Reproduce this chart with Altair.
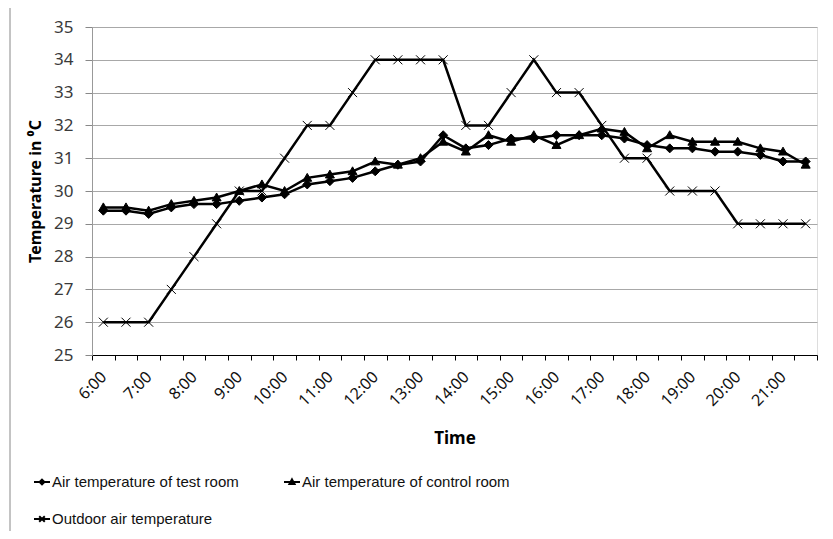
import altair as alt
import pandas as pd

times = ["6:00", "6:30", "7:00", "7:30", "8:00", "8:30", "9:00", "9:30",
         "10:00", "10:30", "11:00", "11:30", "12:00", "12:30", "13:00", "13:30",
         "14:00", "14:30", "15:00", "15:30", "16:00", "16:30", "17:00", "17:30",
         "18:00", "18:30", "19:00", "19:30", "20:00", "20:30", "21:00", "21:30"]

test_room = [29.4, 29.4, 29.3, 29.5, 29.6, 29.6, 29.7, 29.8, 29.9, 30.2, 30.3, 30.4,
             30.6, 30.8, 30.9, 31.7, 31.3, 31.4, 31.6, 31.6, 31.7, 31.7, 31.7, 31.6,
             31.4, 31.3, 31.3, 31.2, 31.2, 31.1, 30.9, 30.9]
control_room = [29.5, 29.5, 29.4, 29.6, 29.7, 29.8, 30.0, 30.2, 30.0, 30.4, 30.5, 30.6,
                30.9, 30.8, 31.0, 31.5, 31.2, 31.7, 31.5, 31.7, 31.4, 31.7, 31.9, 31.8,
                31.3, 31.7, 31.5, 31.5, 31.5, 31.3, 31.2, 30.8]
outdoor = [26, 26, 26, 27, 28, 29, 30, 30, 31, 32, 32, 33, 34, 34, 34, 34,
           32, 32, 33, 34, 33, 33, 32, 31, 31, 30, 30, 30, 29, 29, 29, 29]

series_names = ["Air temperature of test room", "Air temperature of control room",
                "Outdoor air temperature"]

rows = []
for name, vals in zip(series_names, [test_room, control_room, outdoor]):
    for i, (t, v) in enumerate(zip(times, vals)):
        rows.append({"idx": i, "time": t, "series": name, "temp": v})
df = pd.DataFrame(rows)

marker_paths = [
    "M0,-1L1,0L0,1L-1,0Z",
    "M0,-1L1,0.75L-1,0.75Z",
    "M-1,-1L1,1M-1,1L1,-1",
]
legend_paths = [
    "M-1,0H1M0,-0.3L0.3,0L0,0.3L-0.3,0Z",
    "M-1,0H1M0,-0.32L0.32,0.26L-0.32,0.26Z",
    "M-1,0H1M-0.35,-0.35L0.35,0.35M-0.35,0.35L0.35,-0.35",
]

FONT = "Noto Sans"
tick_vals = [i / 2 - 0.5 for i in range(2 * len(times) + 1)]
# hour labels (every second category) taken from the times list
hour_labels = {i: t for i, t in enumerate(times) if t.endswith(":00")}
label_expr = " : ".join(
    f"datum.value == {i} ? '{t}'" for i, t in hour_labels.items()
) + " : ''"

x_enc = alt.X(
    "idx:Q",
    scale=alt.Scale(domain=[-0.5, len(times) - 0.5], nice=False, zero=False),
    axis=alt.Axis(
        title="Time",
        values=tick_vals,
        labelExpr=label_expr,
        labelAngle=-45,
        labelAlign="right",
        labelBaseline="middle",
        labelOverlap=False,
        labelFlush=False,
        labelPadding=14,
        labelFont=FONT,
        labelFontSize=16,
        labelColor="#111111",
        tickOpacity={"condition": {"test": "datum.value % 1 != 0", "value": 1}, "value": 0},
        tickColor="#000000",
        tickSize=5,
        domainColor="#000000",
        grid=False,
        titleFont=FONT,
        titleFontSize=17,
        titleFontWeight="bold",
        titleColor="#000000",
        titlePadding=22,
    ),
)
y_enc = alt.Y(
    "temp:Q",
    scale=alt.Scale(domain=[25, 35], nice=False, zero=False),
    axis=alt.Axis(
        title="Temperature in \u2070C",
        values=list(range(25, 36)),
        labelOverlap=False,
        labelFont=FONT,
        labelFontSize=17,
        labelColor="#3a3a3a",
        labelPadding=12,
        tickColor="#888888",
        tickSize=7,
        domainColor="#999999",
        gridColor="#a8a8a8",
        gridWidth=1,
        titleFont=FONT,
        titleFontSize=16,
        titleFontWeight="bold",
        titleColor="#000000",
        titlePadding=10,
    ),
)

base = alt.Chart(df).encode(x=x_enc, y=y_enc)

lines = base.mark_line(color="black", strokeWidth=2.5).encode(detail="series:N")

points = base.mark_point(filled=True, fill="black", stroke="black", strokeWidth=1,
                         opacity=1, size=81).encode(
    shape=alt.Shape("series:N",
                    scale=alt.Scale(domain=series_names, range=marker_paths),
                    legend=None),
)

legend_layer = base.transform_filter("false").mark_point(
    filled=False, color="black", strokeWidth=2, opacity=1, size=256
).encode(
    shape=alt.Shape(
        "series:N",
        scale=alt.Scale(domain=series_names, range=legend_paths),
        legend=alt.Legend(
            title=None,
            orient="none",
            direction="horizontal",
            legendX=-59,
            legendY=446,
            columns=2,
            columnPadding=41,
            rowPadding=20,
            labelFont="Liberation Sans",
            labelFontSize=15,
            labelColor="#111111",
            labelOffset=1,
            labelLimit=0,
            symbolSize=256,
            symbolStrokeWidth=2,
            symbolStrokeColor="black",
            symbolOpacity=1,
            padding=0,
        ),
    ),
)

frame = alt.Chart(pd.DataFrame({"a": [0]})).mark_rule(color="#888888", strokeWidth=1).encode(
    x=alt.value(-82), y=alt.value(-19), y2=alt.value(520)
)

chart = (
    alt.layer(lines, points, legend_layer, frame)
    .resolve_scale(shape="independent")
    .properties(width=725, height=328, padding={"left": 84, "top": 19, "right": 8, "bottom": 176},
                autosize=alt.AutoSizeParams(type="none"))
    .configure_view(stroke=None)
    .configure_axis(labelOverlap=False)
    .configure(background="white")
)

chart.save("out.html", embed_options={"renderer": "svg", "actions": False})
